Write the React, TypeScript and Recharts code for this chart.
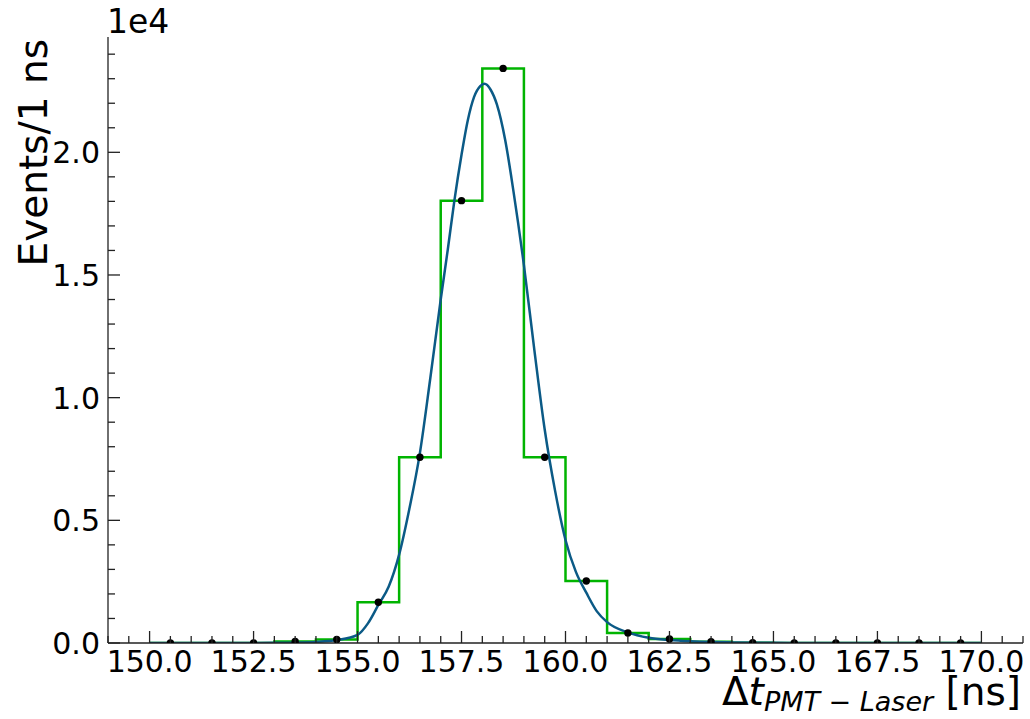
import React from "react";
import { ComposedChart, Line, Scatter, XAxis, YAxis, Label } from "recharts";

// histogram, 1 ns bins from 150 to 170
const binEdges = [150, 151, 152, 153, 154, 155, 156, 157, 158, 159, 160, 161, 162, 163, 164, 165, 166, 167, 168, 169, 170];
const binCenters = [150.5, 151.5, 152.5, 153.5, 154.5, 155.5, 156.5, 157.5, 158.5, 159.5, 160.5, 161.5, 162.5, 163.5, 164.5, 165.5, 166.5, 167.5, 168.5, 169.5];
const binCounts = [0, 0, 0, 60, 140, 1660, 7570, 18030, 23420, 7570, 2530, 410, 160, 50, 15, 3, 0, 0, 0, 0];

// fitted curve
const fitX = [150, 151, 152, 152.5, 153, 153.5, 154, 154.5, 155, 155.25, 155.5, 155.75, 156, 156.25, 156.5, 156.75, 157, 157.17, 157.33, 157.5, 157.65, 157.8, 157.95, 158.05, 158.2, 158.35, 158.55, 158.75, 159, 159.25, 159.5, 159.75, 160, 160.25, 160.5, 160.75, 161, 161.5, 162, 162.5, 163, 163.5, 164, 165, 166, 168, 170];
const fitY = [0, 0, 1, 3, 7, 18, 45, 120, 330, 800, 1550, 2300, 3600, 5500, 7750, 10800, 14000, 16040, 18050, 19900, 21300, 22250, 22700, 22790, 22550, 21950, 20500, 18400, 15400, 11960, 8700, 6200, 4200, 2900, 2050, 1300, 850, 430, 210, 120, 70, 40, 25, 8, 3, 0, 0];

const xTicks = [149, 149.5, 150, 150.5, 151, 151.5, 152, 152.5, 153, 153.5, 154, 154.5, 155, 155.5, 156, 156.5, 157, 157.5, 158, 158.5, 159, 159.5, 160, 160.5, 161, 161.5, 162, 162.5, 163, 163.5, 164, 164.5, 165, 165.5, 166, 166.5, 167, 167.5, 168, 168.5, 169, 169.5, 170, 170.5, 171];
const xMajor = [150, 152.5, 155, 157.5, 160, 162.5, 165, 167.5, 170];
const yTicks = [0, 1000, 2000, 3000, 4000, 5000, 6000, 7000, 8000, 9000, 10000, 11000, 12000, 13000, 14000, 15000, 16000, 17000, 18000, 19000, 20000, 21000, 22000, 23000, 24000];
const yMajor = [0, 5000, 10000, 15000, 20000];

const histData = binEdges.map((x, i) => ({ x, y: binCounts[Math.min(i, binCounts.length - 1)] }));
const pointData = binCenters.map((x, i) => ({ x, y: binCounts[i] }));
const fitData = fitX.map((x, i) => ({ x, y: fitY[i] }));

const FONT = "DejaVu Sans, sans-serif";
const AXIS = "#222";

const XTick = (props: any) => {
  const { x, y, payload } = props;
  const major = xMajor.includes(payload.value);
  return (
    <g>
      <line x1={x} x2={x} y1={y} y2={y - (major ? 12 : 7)} stroke={AXIS} strokeWidth={1.3} />
      {major && (
        <text x={x} y={y + 29} textAnchor="middle" fontSize={30} fontFamily={FONT} fill="#000">
          {payload.value.toFixed(1)}
        </text>
      )}
    </g>
  );
};

const YTick = (props: any) => {
  const { x, y, payload } = props;
  const major = yMajor.includes(payload.value);
  return (
    <g>
      <line x1={x} x2={x + (major ? 12 : 7)} y1={y} y2={y} stroke={AXIS} strokeWidth={1.3} />
      {major && (
        <text x={x - 8} y={y + 11} textAnchor="end" fontSize={30} fontFamily={FONT} fill="#000">
          {(payload.value / 10000).toFixed(1)}
        </text>
      )}
    </g>
  );
};

const Dot = (props: any) => <circle cx={props.cx} cy={props.cy} r={3.7} fill="#000" />;

export default function App() {
  return (
    <div style={{ position: "absolute", left: 0, top: 0, width: 1030, height: 719, background: "#fff" }}>
      <ComposedChart width={1030} height={719} margin={{ top: 37, right: 7, bottom: 0, left: 0 }}>
        <XAxis
          type="number"
          dataKey="x"
          domain={[149, 171]}
          ticks={xTicks}
          interval={0}
          allowDataOverflow
          height={76}
          tickSize={0}
          tickMargin={0}
          tickLine={false}
          tick={<XTick />}
          axisLine={{ stroke: AXIS, strokeWidth: 1.3 }}
        >
          <Label
            content={() => (
              <text x={1021} y={705} textAnchor="end" fontSize={39} fontFamily={FONT} fill="#000">
                Δ<tspan fontStyle="italic">t</tspan>
                <tspan fontStyle="italic" fontSize={27} dy={6}>PMT − Laser</tspan>
                <tspan dy={-6}> [ns]</tspan>
              </text>
            )}
          />
        </XAxis>
        <XAxis xAxisId="top" orientation="top" type="number" domain={[149, 171]} height={0} tick={false} tickLine={false} axisLine={{ stroke: AXIS, strokeWidth: 1.3 }} />
        <YAxis
          type="number"
          domain={[0, 24700]}
          ticks={yTicks}
          interval={0}
          allowDataOverflow
          width={108}
          tickSize={0}
          tickMargin={0}
          tickLine={false}
          tick={<YTick />}
          axisLine={{ stroke: AXIS, strokeWidth: 1.3 }}
        >
          <Label
            content={() => (
              <g>
                <text x={107} y={33} fontSize={33} fontFamily={FONT} fill="#000">1e4</text>
                <text x={47} y={39} transform="rotate(-90 47 39)" textAnchor="end" fontSize={39} fontFamily={FONT} fill="#000">
                  Events/1 ns
                </text>
              </g>
            )}
          />
        </YAxis>
        <YAxis yAxisId="right" orientation="right" width={0} tick={false} tickLine={false} axisLine={{ stroke: AXIS, strokeWidth: 1.3 }} />
        <Line data={histData} dataKey="y" type="stepAfter" stroke="#00b400" strokeWidth={2.5} dot={false} isAnimationActive={false} />
        <Line data={fitData} dataKey="y" type="monotone" stroke="#0b5a86" strokeWidth={2.5} dot={false} isAnimationActive={false} />
        <Scatter data={pointData} dataKey="y" shape={<Dot />} isAnimationActive={false} />
      </ComposedChart>
    </div>
  );
}
